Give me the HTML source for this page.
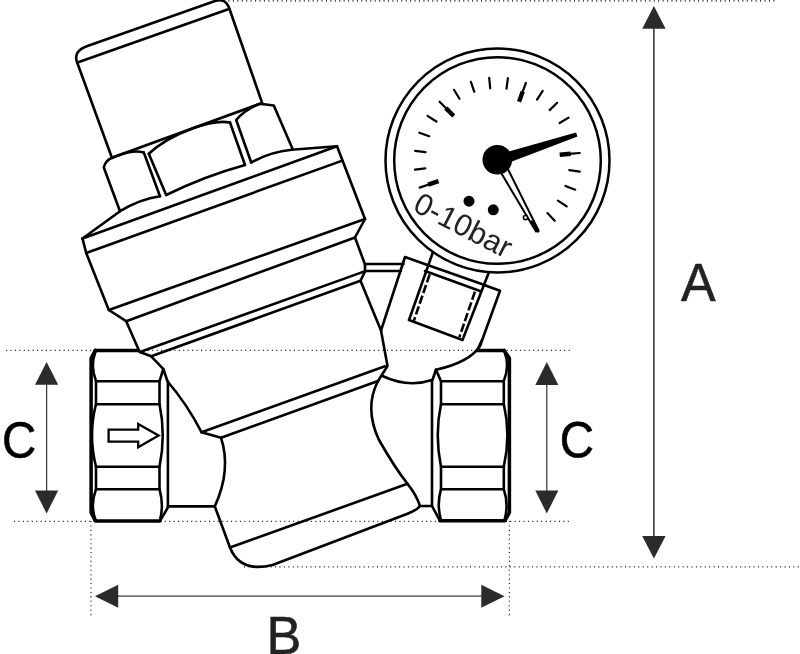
<!DOCTYPE html>
<html lang="en">
<head>
<meta charset="utf-8">
<title>Pressure reducing valve – dimensions</title>
<style>
html,body{margin:0;padding:0;background:#fff;}
body{width:800px;height:654px;overflow:hidden;position:relative;font-family:"Liberation Sans",sans-serif;}
svg{position:absolute;left:0;top:0;display:block;will-change:transform;}
.m{fill:none;stroke:#000;stroke-width:2.6;stroke-linecap:round;stroke-linejoin:round;}
.t{fill:none;stroke:#000;stroke-width:3.5;stroke-linecap:round;stroke-linejoin:round;}
.d{fill:none;stroke:#222;stroke-width:1.2;stroke-dasharray:1.1 3.33;}
.dim{fill:none;stroke:#383838;stroke-width:1.25;}
.ah{fill:#2b2b2b;stroke:none;}
.lbl{font-family:"Liberation Sans",sans-serif;fill:#222;}
</style>
</head>
<body>
<svg width="800" height="654" viewBox="0 0 800 654">

<!-- dotted reference lines -->
<g class="d">
<path d="M224,0.8H777" stroke-width="1.7" stroke="#444"/>
<path d="M6,350.4H570"/>
<path d="M14,521.4H570"/>
<path d="M244,566.9H800"/>
<path d="M91,521V618"/>
<path d="M509.4,521V618"/>
</g>

<!-- dimension lines -->
<g class="dim">
<path d="M653.9,25V540" stroke-width="1.6"/>
<path d="M46.6,380V495"/>
<path d="M546.8,380V495"/>
<path d="M115,596.2H485"/>
</g>
<g class="ah">
<path d="M653.9,6L665.6,28.8H642.2Z"/>
<path d="M653.9,558.5L665.6,536H642.2Z"/>
<path d="M46.6,362L58.2,384.8H35Z"/>
<path d="M46.6,513.5L58.2,490.6H35Z"/>
<path d="M546.8,362L558.3,385H535.3Z"/>
<path d="M546.8,513.5L558.3,490.5H535.3Z"/>
<path d="M95,596.2L118.2,584.7V607.8Z"/>
<path d="M504.5,596.2L481.3,584.7V607.8Z"/>
</g>

<!-- labels -->
<text class="lbl" transform="translate(681.1,300.8) scale(1,1.03)" font-size="52" stroke="#222" stroke-width="0.5">A</text>
<text class="lbl" transform="translate(266.6,654.1) scale(1,1.03)" font-size="52.3" stroke="#222" stroke-width="0.5">B</text>
<text class="lbl" transform="translate(1.95,457.5) rotate(0.03) scale(1,1.07)" font-size="47.4" stroke="#000" stroke-width="0.6" style="fill:#000">C</text>
<text class="lbl" transform="translate(559.85,457.3) rotate(0.03) scale(1,1.07)" font-size="47.4" stroke="#000" stroke-width="0.6" style="fill:#000">C</text>

<!-- VALVE -->
<g id="valve">
<!-- cap -->
<path class="m" d="M112,158L77,62Q73,51 87.5,46L215,1Q225.5,-2.7 229.5,9L262.5,104"/>
<path class="m" d="M77.5,62.5L227.5,9.5"/>
<!-- nut -->
<path class="m" d="M112.5,157.5L260,103.8"/>
<path class="m" d="M120,211.2L103.8,167.5Q105.5,160 112.5,157.5C124,153.3 134,149.6 143.8,152.5"/>
<path class="m" d="M143.8,152.5L160,196.2M148.8,153.8L166.2,195"/>
<path class="m" d="M148.8,153.8C162,141 180,133 193,128.2C206,123.5 220,120.5 230,122.5"/>
<path class="m" d="M230,122.5L245,165M236.2,120L251.2,162.5"/>
<path class="m" d="M236.2,120C243,112 251,107 260,103.8L273.8,105.5L292.5,148.8"/>
<path class="m" d="M82.5,238.5L120,211.2Q140,199 160,196.2"/>
<path class="m" d="M166.2,195Q205,176 245,165"/>
<path class="m" d="M251.2,162.5Q270,152 291.6,149.8L337,146.2"/>
<!-- bonnet flange -->
<path class="m" d="M82.5,238.5L337,146.2L365,219L355,237.5L365,264.5V271.4L360.5,280.8L381,330.5L387.5,366L378,381"/>
<path class="m" d="M82.5,238.5L86.2,253L108.8,310L126.2,321.2L139,350.5"/>
<path class="m" d="M86.2,253L342.4,160.6"/>
<path class="m" d="M108.8,310L365,219"/>
<path class="m" d="M126.2,321.2L355,237.5"/>
<path class="m" d="M140,352L364.5,271.4"/>
<path class="m" d="M151.2,356.3L360.5,280.8"/>
<!-- body -->
<path class="m" d="M138.8,350.8L140,352L151.2,356.3L163.2,368.8L167.6,381.5Q187,404 201.5,432.2L221,437.7Q231.5,470 214.8,506.4H167.9"/>
<path class="m" d="M201.5,432.2L385,366.3"/>
<path class="m" d="M221,437.7L378,381"/>
<path class="m" d="M214.8,506.4L230,547.5Q240,573 272.5,565L407.5,513.8Q417,510 420,506H432"/>
<path class="m" d="M230,547.5L407.5,483.8"/>
<path class="m" d="M378,381Q364,408 379,440Q395,468 407.5,483.8Q416,494 420,506"/>
<path class="m" d="M382.5,376Q408,388 432,380"/>
<!-- connector to gauge -->
<path class="m" d="M365,264H403.5M365,271H401"/>
<path class="m" d="M381,330.5L405,257L427.5,265M485.5,285.5L500,290.8L480,346Q470,362 436,369.8"/>
<path class="m" d="M427.5,265L486,285.5M425,271L480,291"/>
<path class="m" d="M433,252L409,320L462.5,340L489,272"/>
<path class="m" d="M429.7,274.3L413.8,320.9" style="stroke-dasharray:8.5 2.8;stroke-linecap:butt"/>
<path class="m" d="M474.9,291.7L459.4,337.2" style="stroke-dasharray:8.5 2.8;stroke-linecap:butt"/>
<path class="m" d="M482,340L477.3,350.4"/>
</g>

<!-- left hex -->
<g id="lhex">
<path class="t" d="M95.3,350.4H138.5"/>
<path class="t" d="M95.3,350.4L91.1,358.3V512.5L95.3,520.9H160"/>
<path class="m" d="M160,520.8L167.9,507.5V381.5"/>
<path class="m" d="M95.5,351.5Q90,366 96,381V404Q88,435 96,466.8V489.2Q90,505 95.5,520"/>
<path class="m" d="M163.3,369L159.5,381.3V404Q166,435 159.5,466.8V489.2Q164,505 160,520"/>
<path class="m" d="M96,381.3H159.5M96,404.2H159.5M96,466.8H159.5M96,489.2H159.5"/>
<path class="m" d="M108.6,429.6H138.2V424L158.6,435.6L138.2,447.3V441.6H108.6Z" style="stroke-linejoin:miter;stroke-width:2.3"/>
</g>
<!-- right hex -->
<g id="rhex">
<path class="t" d="M477.3,350.4H504.1"/>
<path class="t" d="M504.1,350.4L509.4,358.3V512.5L505,520.8H440"/>
<path class="m" d="M440,520.8L432,506V381.3L436,369.8"/>
<path class="m" d="M504.5,351.5Q510,366 503.8,381V404Q511,435 503.8,466.8V489.2Q509,505 504.5,520"/>
<path class="m" d="M436,369.8L441,381.3V404Q434.5,435 441,466.8V489.2Q436.5,505 441,520"/>
<path class="m" d="M441,381.3H503.8M441,404.2H503.8M441,466.8H503.8M441,489.2H503.8"/>
</g>

<!-- gauge -->
<g id="gauge">
<circle cx="497.5" cy="160.5" r="112" fill="#fff" stroke="#000" stroke-width="2.5"/>
<circle cx="497.5" cy="160.5" r="103.3" fill="none" stroke="#000" stroke-width="2.5"/>
<g id="ticks">
<path d="M438.5,181.1L428.1,184.7" stroke="#000" stroke-width="4.4"/>
<path d="M429.5,184.2L419.6,187.6" stroke="#000" stroke-width="2.2" stroke-linecap="round"/>
<path d="M425.4,168.4L415.0,169.6" stroke="#000" stroke-width="2.2" stroke-linecap="round"/>
<path d="M425.5,152.1L415.1,150.9" stroke="#000" stroke-width="2.2" stroke-linecap="round"/>
<path d="M429.2,136.2L419.3,132.7" stroke="#000" stroke-width="2.2" stroke-linecap="round"/>
<path d="M436.4,121.5L427.5,115.9" stroke="#000" stroke-width="2.2" stroke-linecap="round"/>
<path d="M453.7,116.0L445.9,108.1" stroke="#000" stroke-width="4.4"/>
<path d="M447.0,109.2L439.6,101.7" stroke="#000" stroke-width="2.2" stroke-linecap="round"/>
<path d="M459.5,98.8L454.0,89.8" stroke="#000" stroke-width="2.2" stroke-linecap="round"/>
<path d="M474.3,91.8L470.9,81.9" stroke="#000" stroke-width="2.2" stroke-linecap="round"/>
<path d="M490.2,88.4L489.2,77.9" stroke="#000" stroke-width="2.2" stroke-linecap="round"/>
<path d="M506.5,88.6L507.9,78.1" stroke="#000" stroke-width="2.2" stroke-linecap="round"/>
<path d="M519.0,101.8L522.8,91.5" stroke="#000" stroke-width="4.4"/>
<path d="M522.2,92.9L525.9,83.0" stroke="#000" stroke-width="2.2" stroke-linecap="round"/>
<path d="M537.0,99.7L542.7,90.9" stroke="#000" stroke-width="2.2" stroke-linecap="round"/>
<path d="M549.6,110.1L557.2,102.8" stroke="#000" stroke-width="2.2" stroke-linecap="round"/>
<path d="M559.6,123.0L568.6,117.6" stroke="#000" stroke-width="2.2" stroke-linecap="round"/>
<path d="M559.7,154.8L570.7,153.8" stroke="#000" stroke-width="4.4"/>
<path d="M569.2,153.9L579.7,153.0" stroke="#000" stroke-width="2.2" stroke-linecap="round"/>
<path d="M569.3,170.2L579.8,171.6" stroke="#000" stroke-width="2.2" stroke-linecap="round"/>
<path d="M565.4,186.0L575.2,189.7" stroke="#000" stroke-width="2.2" stroke-linecap="round"/>
<path d="M557.9,200.6L566.7,206.4" stroke="#000" stroke-width="2.2" stroke-linecap="round"/>
<path d="M547.4,213.1L554.7,220.7" stroke="#000" stroke-width="2.2" stroke-linecap="round"/>
</g>
<circle cx="469" cy="201.2" r="5.5" fill="#000"/>
<circle cx="493.3" cy="209.8" r="5.5" fill="#000"/>
<path d="M500.3,171.5L507.6,168.5L538.3,230L536,231.5Z" fill="#fff" stroke="#000" stroke-width="2" stroke-linejoin="round"/>
<path d="M532,222L538,231" stroke="#000" stroke-width="3.2" stroke-linecap="round"/>
<circle cx="525.5" cy="217.6" r="2.1" fill="#fff" stroke="#000" stroke-width="1.5"/>
<path d="M498,154.5L576,132.5L577.5,136.5L500,166Z" fill="#000"/>
<circle cx="497.3" cy="159.8" r="14.8" fill="#000"/>
<g opacity="0.999"><text class="lbl" transform="translate(411.5,210.3) rotate(27.3)" font-size="30.6" fill="#111">0-10bar</text></g>
</g>
</svg>
</body>
</html>
